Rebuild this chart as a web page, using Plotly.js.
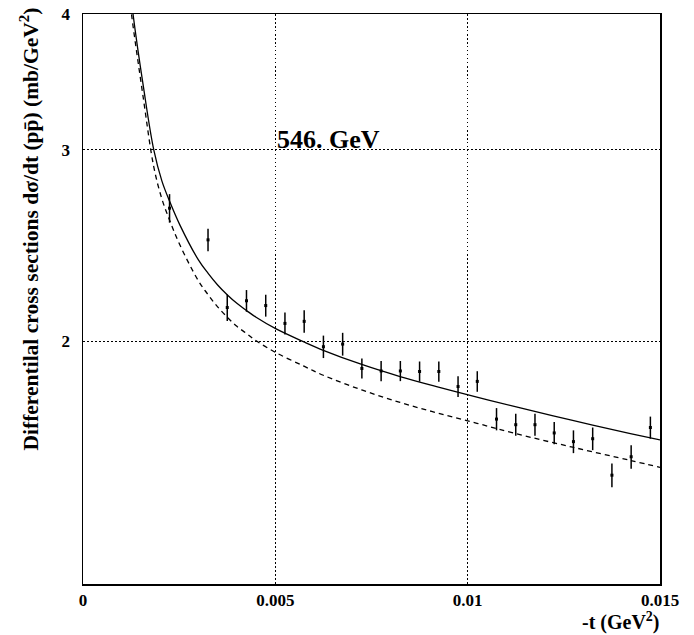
<!DOCTYPE html>
<html>
<head>
<meta charset="utf-8">
<script src="https://cdn.plot.ly/plotly-3.0.1.min.js"></script>
<style>html,body{margin:0;padding:0;background:#fff;}#chart{width:694px;height:635px;}</style>
</head>
<body>
<div id="chart"></div>
<script>
// Measured data (-t in GeV^2, dσ/dt in mb/GeV^2)
var dataT = [0.00225, 0.00325, 0.00375, 0.00425, 0.00475, 0.00525, 0.00575, 0.00625, 0.00675,
             0.00725, 0.00775, 0.00825, 0.00875, 0.00925, 0.00975, 0.01025, 0.01075, 0.01125,
             0.01175, 0.01225, 0.01275, 0.01325, 0.01375, 0.01425, 0.01475];
var dataSigma = [2.652, 2.480, 2.149, 2.180, 2.158, 2.078, 2.087, 1.978, 1.989,
                 1.889, 1.879, 1.879, 1.877, 1.877, 1.818, 1.838, 1.697, 1.677,
                 1.677, 1.648, 1.618, 1.628, 1.507, 1.567, 1.667];
var dataErr = [0.080, 0.059, 0.060, 0.050, 0.050, 0.048, 0.050, 0.047, 0.048,
               0.040, 0.040, 0.040, 0.040, 0.040, 0.040, 0.040, 0.040, 0.039,
               0.039, 0.039, 0.039, 0.039, 0.038, 0.039, 0.039];

// Solid model curve
var solidT = [0.00125, 0.00130, 0.001567, 0.00184, 0.00205, 0.002257, 0.002517, 0.0030, 0.003253,
              0.0035, 0.003748, 0.0040, 0.004253, 0.0045, 0.005008, 0.005745, 0.006247, 0.007246,
              0.008243, 0.00924, 0.01024, 0.011236, 0.012728, 0.01423, 0.015];
var solidSigma = [4.15, 4.0, 3.435, 3.0, 2.81, 2.688, 2.56, 2.377, 2.31,
                  2.254, 2.208, 2.168, 2.135, 2.105, 2.055, 1.998, 1.963, 1.905,
                  1.857, 1.816, 1.778, 1.742, 1.692, 1.646, 1.624];

// Dashed model curve
var dashT = [0.00121, 0.00126, 0.001567, 0.00184, 0.00205, 0.002257, 0.002517, 0.0030, 0.003253,
             0.0035, 0.003748, 0.0040, 0.004253, 0.0045, 0.005008, 0.005745, 0.006247, 0.007246,
             0.008243, 0.00924, 0.01024, 0.011236, 0.012728, 0.01423, 0.015];
var dashSigma = [4.15, 4.0, 3.349, 2.894, 2.705, 2.582, 2.454, 2.274, 2.208,
                 2.152, 2.106, 2.065, 2.034, 2.003, 1.954, 1.898, 1.862, 1.805,
                 1.758, 1.718, 1.682, 1.646, 1.599, 1.555, 1.532];

var xTickVals = [0, 0.005, 0.01, 0.015];
var xTickText = ['0', '0.005', '0.01', '0.015'];
var yTickVals = [2, 3, 4];
var yTickText = ['2', '3', '4'];

var serif = 'Liberation Serif, Times New Roman, serif';

var traces = [
  {x: solidT, y: solidSigma, type: 'scatter', mode: 'lines',
   line: {color: '#000', width: 1.3, shape: 'spline', smoothing: 1}, hoverinfo: 'skip'},
  {x: dashT, y: dashSigma, type: 'scatter', mode: 'lines',
   line: {color: '#000', width: 1.3, dash: '5px,4px', shape: 'spline', smoothing: 1}, hoverinfo: 'skip'},
  {x: dataT, y: dataSigma, type: 'scatter', mode: 'markers',
   marker: {symbol: 'square', size: 3, color: '#000'},
   error_y: {type: 'data', array: dataErr, visible: true, color: '#000', thickness: 1.5, width: 0}}
];

var layout = {
  width: 694, height: 635,
  margin: {l: 83.3, r: 34.4, t: 14, b: 50.7},
  paper_bgcolor: '#fff', plot_bgcolor: '#fff',
  showlegend: false,
  font: {family: serif, color: '#000', size: 17, weight: 'bold'},
  xaxis: {
    range: [0, 0.015], tickvals: xTickVals, ticktext: xTickText,
    showgrid: true, gridcolor: '#000', griddash: '1.5px,2.5px', gridwidth: 1,
    zeroline: false, showline: true, linecolor: '#000', linewidth: 1.5, mirror: true,
    ticks: '', tickfont: {family: serif, size: 17, weight: 'bold', color: '#000'}
  },
  yaxis: {
    type: 'log', range: [Math.log10(1.197), Math.log10(4)], tickvals: yTickVals, ticktext: yTickText,
    showgrid: true, gridcolor: '#000', griddash: '1.5px,2.5px', gridwidth: 1,
    zeroline: false, showline: true, linecolor: '#000', linewidth: 1.5, mirror: true,
    ticks: '', ticklabelstandoff: 8, tickfont: {family: serif, size: 17, weight: 'bold', color: '#000'}
  },
  annotations: [
    {x: 0.005, y: Math.log10(3.064), xref: 'x', yref: 'y', xanchor: 'left', yanchor: 'middle',
     text: '546. GeV', showarrow: false, font: {family: serif, size: 26, weight: 'bold', color: '#000'}},
    {x: 1.003, y: -0.066, xref: 'paper', yref: 'paper', xanchor: 'right', yanchor: 'middle',
     text: '-t (GeV<sup>2</sup>)', showarrow: false, font: {family: serif, size: 20, weight: 'bold', color: '#000'}},
    {x: -0.0925, y: 0.623, xref: 'paper', yref: 'paper', xanchor: 'center', yanchor: 'middle', textangle: -90,
     text: 'Differentilal cross sections d\u03C3/dt (pp\u0304) (mb/GeV<sup>2</sup>)', showarrow: false,
     font: {family: serif, size: 21.5, weight: 'bold', color: '#000'}}
  ]
};

Plotly.newPlot('chart', traces, layout, {displayModeBar: false, staticPlot: true});
</script>
</body>
</html>
